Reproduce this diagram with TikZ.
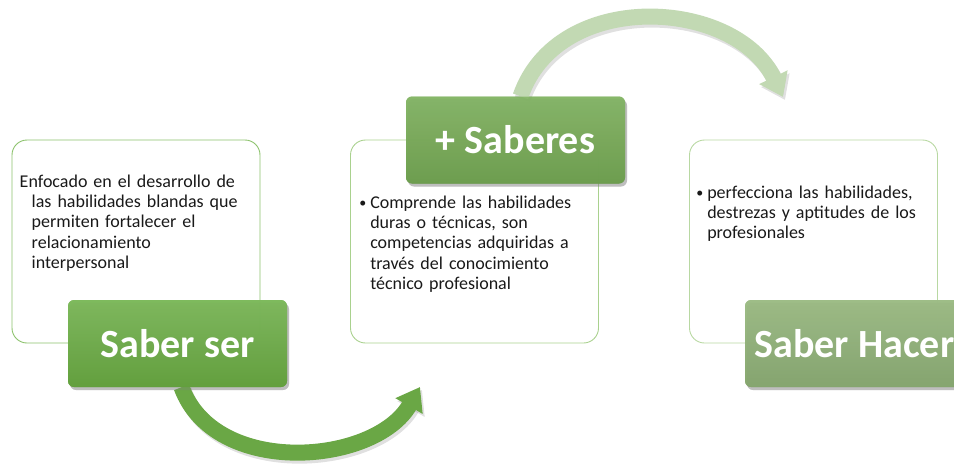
\documentclass[tikz,border=0pt]{standalone}
\usepackage{fontspec}
\setmainfont{Carlito}
\usetikzlibrary{positioning,arrows.meta,shadows}
\definecolor{serTop}{HTML}{7DB95C}
\definecolor{serBot}{HTML}{62A03C}
\definecolor{sabTop}{HTML}{86B668}
\definecolor{sabBot}{HTML}{6C9E4D}
\definecolor{hacTop}{HTML}{9DBC86}
\definecolor{hacBot}{HTML}{86A66E}
\definecolor{frameA}{HTML}{8CC26C}
\definecolor{frameB}{HTML}{A9D18E}
\definecolor{frameC}{HTML}{B8D8A2}
\definecolor{arrowDark}{HTML}{6AA745}
\definecolor{arrowLight}{HTML}{C2D9B3}
\tikzset{
myframe/.style={
  rectangle,
  rounded corners=15pt,
  draw=#1,
  line width=0.9pt,
  minimum width=248pt,
  minimum height=203pt
  },
mytitle/.style 2 args={
  rectangle,
  rounded corners=6pt,
  top color=#1,
  bottom color=#2,
  fill opacity=0.92,
  text opacity=1,
  text=white,
  font=\fontsize{40}{48}\selectfont\bfseries,
  minimum width=219pt,
  minimum height=87pt,
  drop shadow={opacity=0.3,shadow xshift=2pt,shadow yshift=-3pt}
  },
mytext/.style={
  inner sep=0pt,
  anchor=north west,
  text width=250pt,
  align=left,
  text=black!90,
  font=\fontsize{18}{20.3}\selectfont
  },
myarrow/.style={
  line width=16pt,
  draw=#1,
  -{Triangle[length=22pt,width=30pt]}
  }
}
\newcommand{\bulletitem}{\makebox[11pt][l]{\raisebox{1pt}{\fontsize{14}{14}\selectfont\textbullet}}}
\newcommand{\contline}{\hspace*{11pt}}

\begin{document}
\begin{tikzpicture}[x=1pt,y=-1pt]

\useasboundingbox (0,0) rectangle (954,464);

\coordinate (lowTip) at (420,387);
\coordinate (upTip) at (783,97);

\node[myframe=frameA] (frame1) at (136,241.5) {};

\node[myframe=frameB] (frame2) at (474.5,241.5) {};

\node[myframe=frameC] (frame3) at (813.5,241.5) {};

\node[mytitle={serTop}{serBot}] (title1) at (177.5,343.5) {};
\node[mytitle={sabTop}{sabBot}] (title2) at (515.5,140) {};
\node[mytitle={hacTop}{hacBot}] (title3) at (854.5,343.5) {};

% arrows between the stages
\begin{scope}
\draw[myarrow=black,opacity=0.12,transform canvas={xshift=2pt,yshift=-3pt}]
  ([xshift=4pt]title1.south) .. controls (215,478) and (375,465) .. (lowTip);
\draw[myarrow=arrowDark]
  ([xshift=4pt]title1.south) .. controls (215,478) and (375,465) .. (lowTip);

\draw[myarrow=black,opacity=0.12,transform canvas={xshift=2pt,yshift=-3pt}]
  ([xshift=5pt]title2.north) .. controls (558,-12) and (735,-2) .. (upTip);
\draw[myarrow=arrowLight]
  ([xshift=5pt]title2.north) .. controls (558,-12) and (735,-2) .. (upTip);
\end{scope}

\node[mytitle={serTop}{serBot}] at (title1) {Saber ser};
\node[mytitle={sabTop}{sabBot}] at (title2) {+ Saberes};
\node[mytitle={hacTop}{hacBot}] at (title3) {Saber Hacer};

\node[mytext,below right=35pt and 8pt of frame1.north west] (text1)
{
  Enfocado en el desarrollo de\\
  \hspace*{12pt}las habilidades blandas que\\
  \hspace*{12pt}permiten fortalecer el\\
  \hspace*{12pt}relacionamiento\\
  \hspace*{12pt}interpersonal
};

\node[mytext,below right=56pt and 9pt of frame2.north west] (text2)
{
  \bulletitem Comprende las habilidades\\
  \contline duras o técnicas, son\\
  \contline competencias adquiridas a\\
  \contline través del conocimiento\\
  \contline técnico profesional
};

\node[mytext,below right=46pt and 7pt of frame3.north west] (text3)
{
  \bulletitem perfecciona las habilidades,\\
  \contline destrezas y aptitudes de los\\
  \contline profesionales
};

\end{tikzpicture}
\end{document}
